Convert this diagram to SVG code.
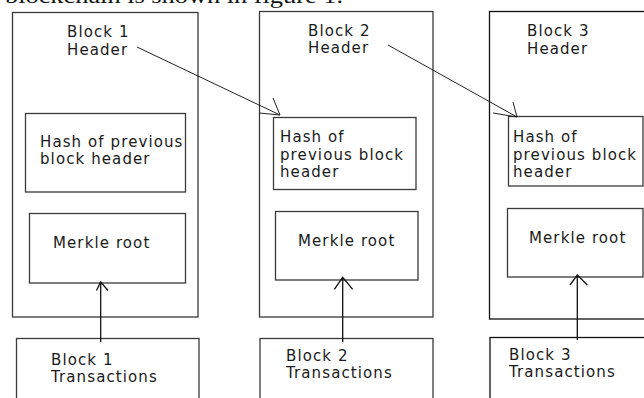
<svg xmlns="http://www.w3.org/2000/svg" width="644" height="398" viewBox="0 0 644 398">
<style>
.box{fill:none;stroke:#3a3a3a;stroke-width:1.3}
.t{font-family:Verdana,"DejaVu Sans",sans-serif;font-size:15px;letter-spacing:1.1px;fill:#1a1a1a}
.c{fill:none;stroke:#222;stroke-width:1}
.ca{fill:none;stroke:#111;stroke-width:1.3}
</style>
<rect width="644" height="398" fill="#fff"/>
<text x="5" y="2.5" font-family="'Liberation Serif','Times New Roman',serif" font-size="21" fill="#111" textLength="338" lengthAdjust="spacingAndGlyphs">blockchain is shown in figure 1.</text>

<g id="block1">
<rect class="box" x="12.5" y="12.5" width="185.5" height="304.5"/>
<text class="t" x="67" y="37">Block 1</text>
<text class="t" x="67" y="55">Header</text>
</g>
<g id="hash1">
<rect class="box" x="25.5" y="113.5" width="160" height="78.5"/>
<text class="t" x="40" y="147">Hash of previous</text>
<text class="t" x="40" y="164">block header</text>
</g>
<g id="merkle1">
<rect class="box" x="29.5" y="213.5" width="156" height="69.5"/>
<text class="t" x="53" y="248">Merkle root</text>
</g>
<g id="trans1">
<rect class="box" x="16.5" y="338.5" width="182.5" height="70"/>
<text class="t" x="51" y="365">Block 1</text>
<text class="t" x="51" y="382">Transactions</text>
</g>

<g id="block2">
<rect class="box" x="259.5" y="11.5" width="173.5" height="305.5"/>
<text class="t" x="308" y="36">Block 2</text>
<text class="t" x="308" y="53">Header</text>
</g>
<g id="hash2">
<rect class="box" x="273.5" y="117.5" width="142.5" height="72"/>
<text class="t" x="280" y="142">Hash of</text>
<text class="t" x="280" y="160">previous block</text>
<text class="t" x="280" y="177">header</text>
</g>
<g id="merkle2">
<rect class="box" x="275.5" y="211.5" width="142.5" height="68.5"/>
<text class="t" x="298" y="246">Merkle root</text>
</g>
<g id="trans2">
<rect class="box" x="260" y="338.5" width="173" height="70"/>
<text class="t" x="286" y="361">Block 2</text>
<text class="t" x="286" y="378">Transactions</text>
</g>

<g id="block3">
<rect class="box" x="489.5" y="11.5" width="200" height="307.5" style="stroke:#111"/>
<text class="t" x="527" y="36">Block 3</text>
<text class="t" x="527" y="54">Header</text>
</g>
<g id="hash3">
<rect class="box" x="508.5" y="116.5" width="134.5" height="69.5"/>
<text class="t" x="513" y="142">Hash of</text>
<text class="t" x="513" y="160">previous block</text>
<text class="t" x="513" y="177">header</text>
</g>
<g id="merkle3">
<rect class="box" x="507.5" y="208.5" width="135.5" height="68.5"/>
<text class="t" x="529" y="243">Merkle root</text>
</g>
<g id="trans3">
<rect class="box" x="490" y="337.5" width="200" height="70" style="stroke:#111"/>
<text class="t" x="509" y="360">Block 3</text>
<text class="t" x="509" y="377">Transactions</text>
</g>

<g id="connectors">
<path class="c" d="M137 47 L280 115 M273 98 L280 115 L259 113"/>
<path class="c" d="M388 45 L517 117 M513 102 L517 117 L493 113"/>
<path class="ca" d="M100.7 342 V282 M96.5 290.5 L100.7 282 L108 290.5"/>
<path class="ca" d="M342.7 342 V277.3 M334.3 289.3 L342.7 277.3 L352.7 289.3"/>
<path class="ca" d="M577.3 340 V275 M570 285 L577.3 275 L587.3 285"/>
</g>
</svg>
